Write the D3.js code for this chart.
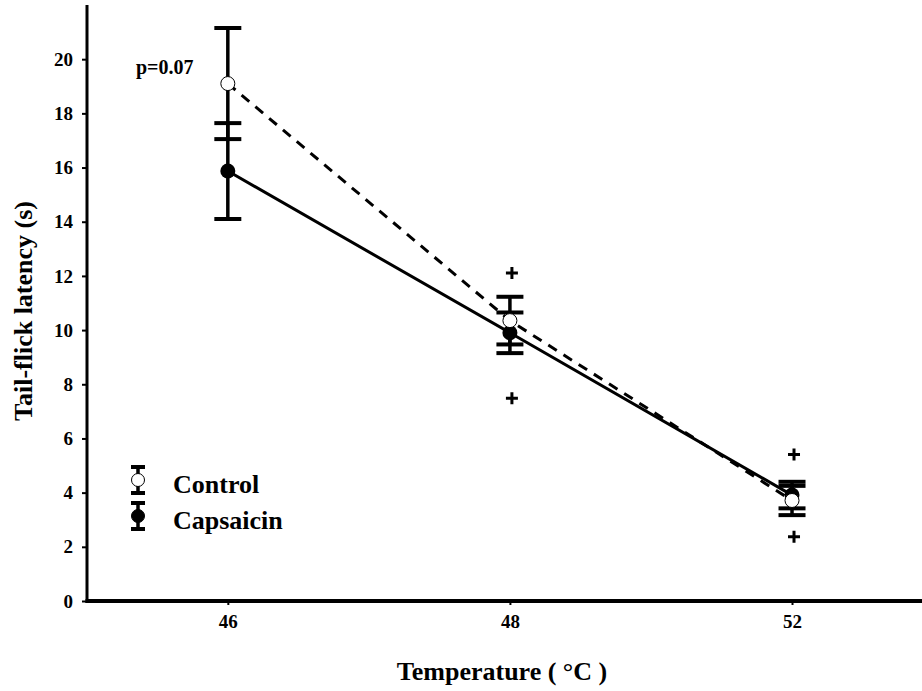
<!DOCTYPE html>
<html lang="en">

<head>
  <meta charset="UTF-8">
  <title>Tail-flick latency</title>
  <style>
    body { margin: 0; background: #fff; }
    text { font-family: "Liberation Serif", "Times New Roman", serif; font-weight: bold; fill: #000; }
  </style>
</head>

<body>
  <svg width="922" height="691"></svg>
  <script src="https://cdn.jsdelivr.net/npm/d3@7"></script>
  <script>
    // data
    var temps = ["46", "48", "52"]
    var controlMean = [19.1, 10.35, 3.71]
    var controlErr = [2.05, 0.88, 0.54]
    var capsMean = [15.87, 9.9, 3.91]
    var capsErr = [1.77, 0.75, 0.49]
    // "+" markers
    var plusTemp = ["48", "48", "52", "52"]
    var plusVal = [12.11, 7.48, 5.41, 2.37]
    var yTicks = [0, 2, 4, 6, 8, 10, 12, 14, 16, 18, 20]

    var svg = d3.select("svg")
    var plotLeft = 87, plotRight = 922, plotTop = 5, plotBottom = 601

    var x = d3.scalePoint().domain(temps).range([plotLeft, plotRight]).padding(0.48).align(0.52)
    var y = d3.scaleLinear().domain([0, 22]).range([plotBottom, plotTop])

    // axes
    var yAxis = svg.append("g")
      .attr("transform", "translate(" + plotLeft + ",0)")
      .call(d3.axisLeft(y).tickValues(yTicks).tickSize(5).tickPadding(9))
    yAxis.select(".domain").remove()
    yAxis.selectAll("line").attr("stroke", "#000").attr("stroke-width", 2)
    yAxis.selectAll("text").style("font-size", "19px").style("font-family", "Liberation Serif")

    var xAxis = svg.append("g")
      .attr("transform", "translate(0," + plotBottom + ")")
      .call(d3.axisBottom(x).tickSize(4).tickPadding(10))
    xAxis.select(".domain").remove()
    xAxis.selectAll("line").attr("stroke", "#000").attr("stroke-width", 2)
    xAxis.selectAll("text").style("font-size", "19px").style("font-family", "Liberation Serif")

    svg.append("line")
      .attr("x1", plotLeft).attr("x2", plotLeft).attr("y1", plotTop).attr("y2", plotBottom + 2)
      .attr("stroke", "#000").attr("stroke-width", 3)
    svg.append("line")
      .attr("x1", plotLeft - 1.5).attr("x2", plotRight).attr("y1", plotBottom).attr("y2", plotBottom)
      .attr("stroke", "#000").attr("stroke-width", 4)

    // axis titles
    svg.append("text")
      .attr("x", 502).attr("y", 680)
      .attr("text-anchor", "middle")
      .style("font-size", "26px")
      .text("Temperature ( °C )")
    svg.append("text")
      .attr("transform", "translate(32,311) rotate(-90)")
      .attr("text-anchor", "middle")
      .style("font-size", "26px")
      .text("Tail-flick latency (s)")

    var capsData = temps.map(function (t, i) { return { t: t, m: capsMean[i], e: capsErr[i] } })
    var ctrlData = temps.map(function (t, i) { return { t: t, m: controlMean[i], e: controlErr[i] } })

    // lines
    var line = d3.line().x(function (d) { return x(d.t) }).y(function (d) { return y(d.m) })
    svg.append("path").datum(ctrlData).attr("d", line)
      .attr("fill", "none").attr("stroke", "#000").attr("stroke-width", 3)
      .attr("stroke-dasharray", "10,8")
    svg.append("path").datum(capsData).attr("d", line)
      .attr("fill", "none").attr("stroke", "#000").attr("stroke-width", 3)

    // error bars
    function errorBars(data) {
      var g = svg.append("g")
      g.selectAll(".v").data(data).enter().append("line")
        .attr("x1", function (d) { return x(d.t) }).attr("x2", function (d) { return x(d.t) })
        .attr("y1", function (d) { return y(d.m + d.e) }).attr("y2", function (d) { return y(d.m - d.e) })
        .attr("stroke", "#000").attr("stroke-width", 3.5)
      ;[1, -1].forEach(function (s) {
        g.selectAll(".c" + s).data(data).enter().append("line")
          .attr("x1", function (d) { return x(d.t) - 13.5 }).attr("x2", function (d) { return x(d.t) + 13.5 })
          .attr("y1", function (d) { return y(d.m + s * d.e) }).attr("y2", function (d) { return y(d.m + s * d.e) })
          .attr("stroke", "#000").attr("stroke-width", 4)
      })
    }
    errorBars(capsData)
    errorBars(ctrlData)

    // points
    svg.selectAll(".caps").data(capsData).enter().append("circle")
      .attr("cx", function (d) { return x(d.t) }).attr("cy", function (d) { return y(d.m) })
      .attr("r", 7.5).attr("fill", "#000")
    svg.selectAll(".ctrl").data(ctrlData).enter().append("circle")
      .attr("cx", function (d) { return x(d.t) }).attr("cy", function (d) { return y(d.m) })
      .attr("r", 7).attr("fill", "#fff").attr("stroke", "#000").attr("stroke-width", 1)

    // plus markers
    plusVal.forEach(function (v, i) {
      var cx = x(plusTemp[i]) + 2, cy = y(v)
      svg.append("path")
        .attr("d", "M" + (cx - 6) + "," + cy + "H" + (cx + 6) + "M" + cx + "," + (cy - 6) + "V" + (cy + 6))
        .attr("stroke", "#000").attr("stroke-width", 3)
    })

    svg.append("text").attr("x", 136).attr("y", 74)
      .style("font-size", "20px").text("p=0.07")

    // legend
    var legend = [{ name: "Control", fill: "#fff", cy: 480 }, { name: "Capsaicin", fill: "#000", cy: 516 }]
    legend.forEach(function (d) {
      var lx = 138
      svg.append("line").attr("x1", lx).attr("x2", lx).attr("y1", d.cy - 13).attr("y2", d.cy + 13)
        .attr("stroke", "#000").attr("stroke-width", 3.5)
      ;[-13, 13].forEach(function (o) {
        svg.append("line").attr("x1", lx - 7).attr("x2", lx + 7).attr("y1", d.cy + o).attr("y2", d.cy + o)
          .attr("stroke", "#000").attr("stroke-width", 4)
      })
      svg.append("circle").attr("cx", lx).attr("cy", d.cy).attr("r", 6.5)
        .attr("fill", d.fill).attr("stroke", "#000").attr("stroke-width", 1)
      svg.append("text").attr("x", 173).attr("y", d.cy + 13)
        .style("font-size", "26px").text(d.name)
    })
  </script>
</body>

</html>
